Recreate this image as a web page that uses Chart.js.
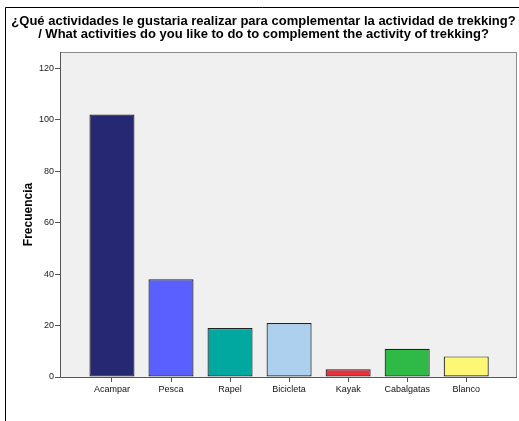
<!DOCTYPE html>
<html>
<head>
<meta charset="utf-8">
<script src="https://cdn.jsdelivr.net/npm/chart.js@4"></script>
<style>
  html, body { margin: 0; padding: 0; background: #fff; }
  #wrap { width: 519px; height: 421px; }
</style>
</head>
<body>
<div id="wrap"><canvas id="myChart" width="519" height="421"></canvas></div>
<script>
// datos
const categorias = ['Acampar', 'Pesca', 'Rapel', 'Bicicleta', 'Kayak', 'Cabalgatas', 'Blanco'];
const frecuencias = [102, 38, 19, 21, 3, 11, 8];
const colores = ['#262872', '#5a5fff', '#00a8a0', '#acd0ee', '#e8323a', '#2fba48', '#fcf875'];
const ticksY = [0, 20, 40, 60, 80, 100, 120];
const tituloLineas = [
  '¿Qué actividades le gustaria realizar para complementar la actividad de trekking?',
  '/ What activities do you like to do to complement the activity of trekking?'
];

// marco exterior y fondo gris del area del grafico
const fondoPlot = {
  id: 'fondoPlot',
  beforeDraw(chart) {
    const { ctx, chartArea: a } = chart;
    ctx.save();
    ctx.fillStyle = '#f0f0f0';
    ctx.fillRect(a.left, a.top, a.right - a.left, a.bottom - a.top);
    ctx.strokeStyle = '#000';
    ctx.lineWidth = 1;
    ctx.beginPath();
    ctx.moveTo(5.5, 421);
    ctx.lineTo(5.5, 7.5);
    ctx.lineTo(519, 7.5);
    ctx.stroke();
    ctx.restore();
  },
  afterDatasetsDraw(chart) {
    const { ctx, chartArea: a } = chart;
    ctx.save();
    ctx.strokeStyle = '#8c8c8c';
    ctx.lineWidth = 1;
    ctx.strokeRect(Math.round(a.left) + 0.5, Math.round(a.top) + 0.5, Math.round(a.right - a.left) - 1, Math.round(a.bottom - a.top));
    ctx.strokeStyle = '#555';
    ctx.beginPath();
    ctx.moveTo(Math.round(a.left) + 0.5, Math.round(a.top));
    ctx.lineTo(Math.round(a.left) + 0.5, Math.round(a.bottom) + 0.5);
    ctx.lineTo(Math.round(a.right), Math.round(a.bottom) + 0.5);
    ctx.stroke();
    ctx.restore();
  }
};

const ctx = document.getElementById('myChart');

new Chart(ctx, {
  type: 'bar',
  data: {
    datasets: [{
      label: 'Frecuencia',
      data: frecuencias.map((v, i) => ({ x: i, y: v })),
      backgroundColor: colores,
      borderColor: '#222',
      borderWidth: 1.2,
      borderSkipped: false,
      categoryPercentage: 1,
      barPercentage: 0.763
    }]
  },
  options: {
    responsive: false,
    animation: false,
    layout: { padding: { left: 10, right: 2, top: 0, bottom: 0 } },
    plugins: {
      legend: { display: false },
      tooltip: { enabled: false },
      title: {
        display: true,
        text: tituloLineas,
        color: '#000',
        font: { family: 'Liberation Sans, Arial', size: 13, weight: 'bold', lineHeight: 1.0 },
        padding: { top: 15, bottom: 11 }
      }
    },
    scales: {
      x: {
        type: 'linear',
        offset: false,
        min: -0.88,
        max: 6.86,
        afterBuildTicks(scale) {
          scale.ticks = categorias.map((_, i) => ({ value: i }));
        },
        afterFit(scale) { scale.height = 44; },
        border: { display: false },
        grid: { offset: false, drawOnChartArea: false, drawTicks: true, tickLength: 5, color: '#555' },
        ticks: {
          autoSkip: false,
          maxRotation: 0,
          padding: 2,
          color: '#111',
          font: { family: 'Liberation Sans, Arial', size: 9 },
          callback: (v) => categorias[v]
        }
      },
      y: {
        min: 0,
        max: 126.3,
        afterBuildTicks(scale) {
          scale.ticks = ticksY.map(v => ({ value: v }));
        },
        afterFit(scale) { scale.width = 50; },
        border: { display: false },
        grid: { drawOnChartArea: false, drawTicks: true, tickLength: 5, color: '#555' },
        ticks: {
          padding: 1,
          color: '#222',
          font: { family: 'Liberation Sans, Arial', size: 9 }
        },
        title: {
          display: true,
          text: 'Frecuencia',
          color: '#000',
          font: { family: 'Liberation Sans, Arial', size: 12, weight: 'bold' },
          padding: { top: 11, bottom: 0 }
        }
      }
    }
  },
  plugins: [fondoPlot]
});
</script>
</body>
</html>
